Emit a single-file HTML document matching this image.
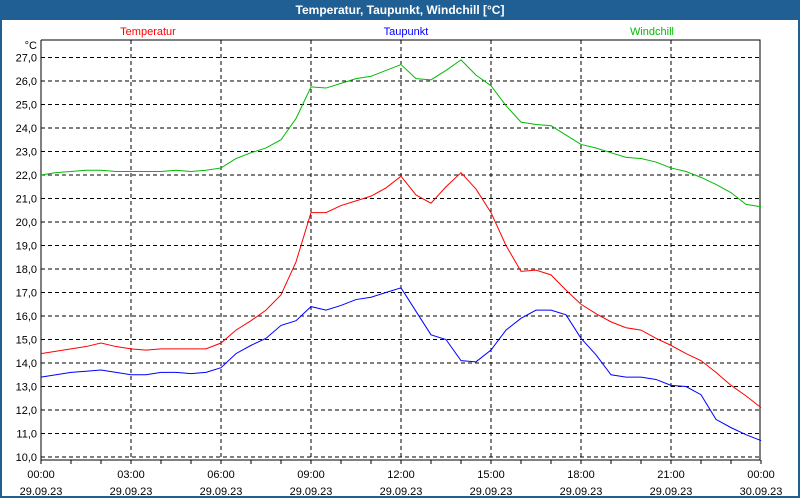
<!DOCTYPE html>
<html><head><meta charset="utf-8"><style>
body{margin:0;width:800px;height:500px;overflow:hidden;background:#fff;font-family:"Liberation Sans",sans-serif}
#win{position:absolute;left:0;top:0;width:796px;height:496px;border:2px solid #1f5f94;border-top:none;background:#fff}
#title{position:absolute;left:0;top:0;width:800px;height:20px;background:#1f5f94;color:#fff;font-weight:bold;font-size:12px;text-align:center;line-height:20px}
</style></head><body>
<div id="win"></div>
<div id="title">Temperatur, Taupunkt, Windchill [°C]</div>
<svg id="chart" width="800" height="500" style="position:absolute;left:0;top:0"></svg>
<script>
const hours=[];for(let i=0;i<=48;i++)hours.push(i/2);
const temperatur=[14.4,14.5,14.6,14.7,14.85,14.7,14.6,14.55,14.6,14.6,14.6,14.6,14.85,15.4,15.8,16.25,16.9,18.3,20.4,20.4,20.7,20.9,21.1,21.45,21.95,21.15,20.8,21.5,22.1,21.4,20.4,19.0,17.9,17.95,17.75,17.1,16.5,16.1,15.75,15.5,15.4,15.05,14.75,14.4,14.1,13.6,13.05,12.6,12.1];
const taupunkt=[13.4,13.5,13.6,13.65,13.7,13.6,13.5,13.5,13.6,13.6,13.55,13.6,13.8,14.4,14.75,15.05,15.6,15.8,16.4,16.25,16.45,16.7,16.8,17.0,17.2,16.2,15.2,15.0,14.1,14.05,14.55,15.4,15.9,16.25,16.25,16.05,15.05,14.35,13.5,13.4,13.4,13.3,13.05,13.0,12.65,11.6,11.25,10.95,10.7];
const windchill=[22.0,22.1,22.15,22.2,22.2,22.15,22.15,22.15,22.15,22.2,22.15,22.2,22.3,22.7,22.95,23.15,23.5,24.4,25.75,25.7,25.9,26.1,26.2,26.45,26.7,26.1,26.05,26.45,26.9,26.25,25.8,24.95,24.25,24.15,24.1,23.7,23.3,23.15,22.95,22.75,22.7,22.55,22.3,22.15,21.9,21.6,21.25,20.75,20.65];
const yTicks=[10,11,12,13,14,15,16,17,18,19,20,21,22,23,24,25,26,27];
const xTicks=[0,3,6,9,12,15,18,21,24];
const xDates=["29.09.23","29.09.23","29.09.23","29.09.23","29.09.23","29.09.23","29.09.23","29.09.23","30.09.23"];
const L=41,R=760,T=40,B=460;
const X=h=>L+h*30, Y=v=>457-(v-10)*23.5;
const svg=document.getElementById('chart'),NS='http://www.w3.org/2000/svg';
function mk(t,a,txt){const e=document.createElementNS(NS,t);for(const k in a)e.setAttribute(k,a[k]);if(txt!=null)e.textContent=txt;svg.appendChild(e);return e;}
yTicks.forEach(v=>{
 const g=mk('line',{x1:L,x2:R,y1:Y(v),y2:Y(v),stroke:'#000','stroke-dasharray':'4,3','stroke-width':1});
 
 
 const t=mk('text',{x:37,y:Y(v)+4,'text-anchor':'end','font-size':11,fill:'#000'},v.toFixed(1).replace('.',','));
 
 
});
xTicks.forEach((h,i)=>{
 if(h>0&&h<24){const g=mk('line',{x1:X(h),x2:X(h),y1:T,y2:B,stroke:'#000','stroke-dasharray':'4,3'});
 
 }
 const t=mk('text',{x:X(h),y:478,'text-anchor':'middle','font-size':11},(h%24<10?'0':'')+(h%24)+':00');
 
 
 const d=mk('text',{x:X(h),y:495,'text-anchor':'middle','font-size':11},xDates[i]);
 
 
});
for(let h=0;h<=24;h++){const m=mk('line',{x1:X(h),x2:X(h),y1:B,y2:B+4,stroke:'#000'});
 
 }
const ax=mk('path',{d:`M${L} ${T}V${B}H${R}V${T}H${L}`,fill:'none',stroke:'#000','stroke-width':1});


const u=mk('text',{x:37,y:49,'text-anchor':'end','font-size':11},'°C');


[[temperatur,'#f00','temperatur-line'],[taupunkt,'#00f','taupunkt-line'],[windchill,'#0b0','windchill-line']].forEach(([s,c,n])=>{
 const p=mk('polyline',{points:s.map((v,i)=>X(hours[i])+','+Y(v)).join(' '),fill:'none',stroke:c,'stroke-width':1});
 
 
});
[['Temperatur','#f00',148],['Taupunkt','#00f',406],['Windchill','#0b0',652]].forEach(([t,c,x])=>{
 const e=mk('text',{x:x,y:35,'text-anchor':'middle','font-size':11,fill:c},t);
 
 
});
</script>
</body></html>
